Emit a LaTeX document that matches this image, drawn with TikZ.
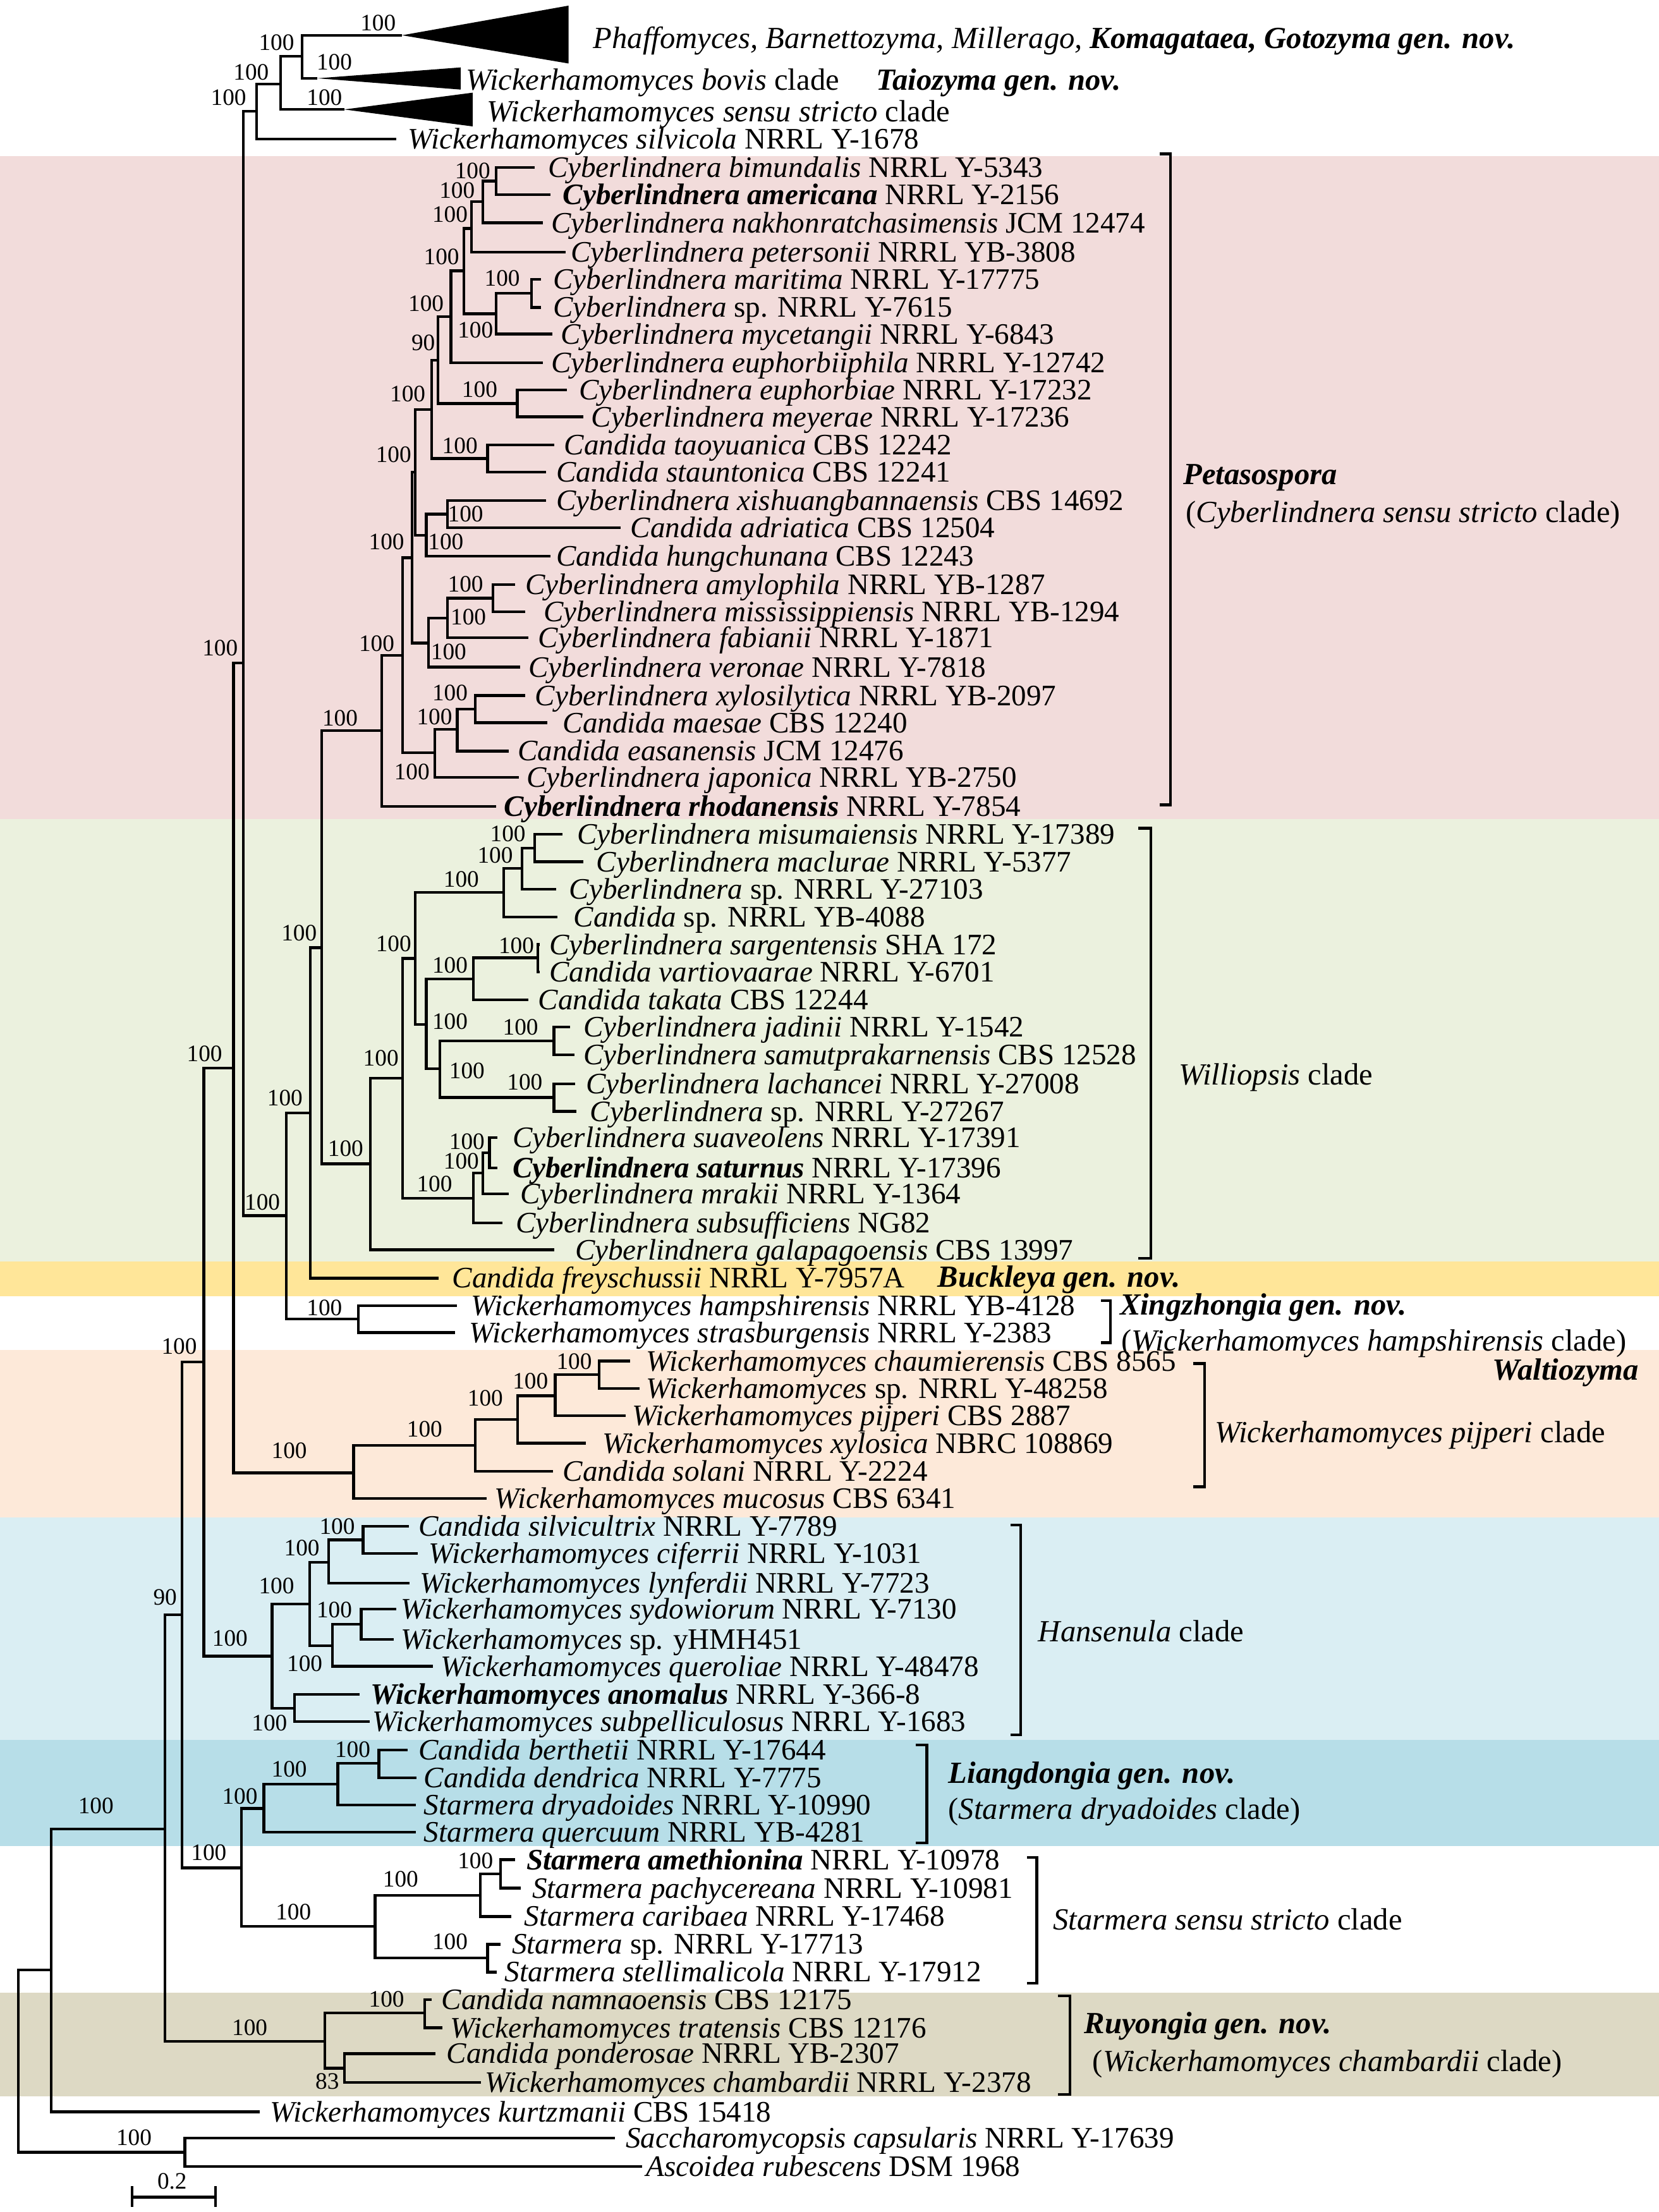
\documentclass[tikz,border=0pt]{standalone}
\usepackage{fontspec}
\setmainfont{Liberation Serif}
\newcommand{\tax}[2]{\textit{#1} #2}
\newcommand{\btax}[2]{\textbf{\textit{#1}} #2}
\newcommand{\taxleaf}[5]{\coordinate (#1) at (#2,#3); \node[taxon] (#1-l) at (#4,#3) {#5};}
\definecolor{cpink}{HTML}{F2DCDB}
\definecolor{cgreen}{HTML}{EBF1DE}
\definecolor{cyellow}{HTML}{FFE699}
\definecolor{cpeach}{HTML}{FDE9D9}
\definecolor{clblue}{HTML}{DAEEF3}
\definecolor{cmblue}{HTML}{B7DEE8}
\definecolor{ctan}{HTML}{DDD9C4}
\begin{document}
\begin{tikzpicture}[x=0.02cm,y=-0.02cm,
  taxon/.style={anchor=base west, inner sep=0pt, yshift=-3.97pt, font=\fontsize{12}{14}\selectfont},
  clab/.style={anchor=base west, inner sep=0pt, yshift=-4.1pt, font=\fontsize{12.4}{14}\selectfont},
  boot/.style={anchor=base, inner sep=0pt, yshift=-3.2pt, font=\fontsize{9.5}{11}\selectfont},
  br/.style={line width=1.1pt}]
\useasboundingbox (0,0) rectangle (1176,1568);
% background bands
\fill[cpink] (0,110.5) rectangle (1176,580.5);
\fill[cgreen] (0,580.5) rectangle (1176,894);
\fill[cyellow] (0,894) rectangle (1176,919);
\fill[cpeach] (0,957) rectangle (1176,1075.5);
\fill[clblue] (0,1075.5) rectangle (1176,1233.5);
\fill[cmblue] (0,1233.5) rectangle (1176,1308.8);
\fill[ctan] (0,1412.5) rectangle (1176,1486.2);

% ---------- top collapsed clades
\coordinate (t1) at (285,25);
\coordinate (t2) at (225,55.5);
\coordinate (t3) at (244,77.6);
\fill (t1) -- (403,4) -- (403,45) -- cycle;
\fill (t2) -- (326.5,47.8) -- (326.5,63.5) -- cycle;
\fill (t3) -- (335,65.7) -- (335,89.6) -- cycle;
\node[clab] (t1-l) at (420.3,27) {\textit{Phaffomyces, Barnettozyma, Millerago,} \textbf{\textit{Komagataea,}} \textbf{\textit{Gotozyma gen. nov.}}};
\node[clab] (t2-l) at (330,56.5) {\textit{Wickerhamomyces bovis} clade};
\node[clab] (t2-g) at (621,56.5) {\textbf{\textit{Taiozyma gen. nov.}}};
\node[clab] (t3-l) at (345,79) {\textit{Wickerhamomyces sensu stricto} clade};
\taxleaf{silv}{281}{98.5}{289}{\tax{Wickerhamomyces silvicola}{NRRL Y-1678}}

% ---------- internal nodes
\coordinate (nT1) at (214,40);
\coordinate (nT2) at (199,59.5);
\coordinate (nT3) at (182,79);
\coordinate (nB1) at (172.5,470);
\coordinate (nB0) at (165.5,757);
\coordinate (nB5) at (144.5,965.5);
\coordinate (nB6) at (129,1144.5);
\coordinate (nB7) at (117,1296.4);
\coordinate (nB8) at (36.2,1396.5);
\coordinate (root) at (12.9,1461);
\coordinate (nOut) at (131.1,1525.7);
\coordinate (nB2) at (203,861.7);
\coordinate (nB3) at (220,788.8);
\coordinate (nB4) at (228,671.8);
\coordinate (nX) at (254,935);
% Petasospora
\coordinate (nP) at (270.5,518);
\coordinate (nPW) at (285.3,464.5);
\coordinate (nPX) at (292.1,395.4);
\coordinate (nPL) at (294.4,334.8);
\coordinate (nPJ) at (305.9,290.2);
\coordinate (nPH) at (310.4,255.5);
\coordinate (nPG) at (319.6,224.5);
\coordinate (nPF) at (328.7,192);
\coordinate (nPC) at (334.2,162);
\coordinate (nPB) at (342.4,143);
\coordinate (nPA) at (351.6,128.3);
\coordinate (nPE) at (351.6,222.5);
\coordinate (nPD) at (376.7,208);
\coordinate (nPI) at (366.7,286);
\coordinate (nPK) at (345.6,325);
\coordinate (nPN) at (302.2,379.5);
\coordinate (nPM) at (317.3,364.5);
\coordinate (nPS) at (303.6,455.8);
\coordinate (nPR) at (317.3,438);
\coordinate (nPQ) at (349.3,424);
\coordinate (nPV) at (308.1,533.7);
\coordinate (nPU) at (324.1,517);
\coordinate (nPT) at (337,502.7);
% Williopsis
\coordinate (nW) at (262.5,825);
\coordinate (nWn) at (285.3,764.3);
\coordinate (nWj) at (294.4,679.4);
\coordinate (nWc) at (357.1,632.5);
\coordinate (nWb) at (369.9,615.5);
\coordinate (nWa) at (379,601.1);
\coordinate (nWi) at (302.2,726.1);
\coordinate (nWe) at (335.6,694);
\coordinate (nWd) at (381.3,679);
\coordinate (nWh) at (311.8,757.5);
\coordinate (nWf) at (392.7,737.9);
\coordinate (nWg) at (392.7,778);
\coordinate (nWm) at (335.6,849.5);
\coordinate (nWl) at (342.4,831.5);
\coordinate (nWk) at (347,817);
% Waltiozyma
\coordinate (nWal) at (250.7,1044);
\coordinate (nWa4) at (337,1024.5);
\coordinate (nWa3) at (366.9,1006.2);
\coordinate (nWa2) at (393.5,989.4);
\coordinate (nWa1) at (424.7,974.5);
% Hansenula
\coordinate (nH) at (192.8,1174);
\coordinate (nHe) at (219.5,1137);
\coordinate (nHb) at (233.1,1107.3);
\coordinate (nHa) at (257.4,1091.6);
\coordinate (nHd) at (235.6,1166.6);
\coordinate (nHc) at (256,1151.4);
\coordinate (nHf) at (208.9,1210.8);
% Liangdongia / Starmera
\coordinate (nS) at (171,1324);
\coordinate (nLc) at (187,1282);
\coordinate (nLb) at (239.4,1264.8);
\coordinate (nLa) at (268.6,1250);
\coordinate (nSd) at (265.9,1365.5);
\coordinate (nSb) at (340.5,1343.5);
\coordinate (nSa) at (354.9,1328.3);
\coordinate (nSc) at (345.6,1388);
% Ruyongia
\coordinate (nR) at (230.4,1447);
\coordinate (nRa) at (300.9,1427);
\coordinate (nRb) at (244.3,1466);

% ---------- leaves
\taxleaf{bimu}{379}{118.7}{388.1}{\tax{Cyberlindnera bimundalis}{NRRL Y-5343}}
\taxleaf{amer}{390.4}{137.9}{398.7}{\btax{Cyberlindnera americana}{NRRL Y-2156}}
\taxleaf{nakh}{385}{157.9}{390.4}{\tax{Cyberlindnera nakhonratchasimensis}{JCM 12474}}
\taxleaf{peter}{401}{178.7}{404.2}{\tax{Cyberlindnera petersonii}{NRRL YB-3808}}
\taxleaf{mari}{383.6}{197.9}{391.8}{\tax{Cyberlindnera maritima}{NRRL Y-17775}}
\taxleaf{spa}{383.6}{217.9}{391.8}{\tax{Cyberlindnera}{sp. NRRL Y-7615}}
\taxleaf{myce}{391.4}{236.8}{397.3}{\tax{Cyberlindnera mycetangii}{NRRL Y-6843}}
\taxleaf{ephila}{385}{257.1}{390.4}{\tax{Cyberlindnera euphorbiiphila}{NRRL Y-12742}}
\taxleaf{ephor}{401.9}{276.3}{410.1}{\tax{Cyberlindnera euphorbiae}{NRRL Y-17232}}
\taxleaf{meye}{413.3}{295.5}{418.8}{\tax{Cyberlindnera meyerae}{NRRL Y-17236}}
\taxleaf{taoy}{392.7}{315.5}{399.6}{\tax{Candida taoyuanica}{CBS 12242}}
\taxleaf{staun}{387}{334.7}{394.1}{\tax{Candida stauntonica}{CBS 12241}}
\taxleaf{xish}{387.2}{354.9}{394.1}{\tax{Cyberlindnera xishuangbannaensis}{CBS 14692}}
\taxleaf{adri}{439.8}{374.2}{446.7}{\tax{Candida adriatica}{CBS 12504}}
\taxleaf{hung}{390.4}{394.3}{394.1}{\tax{Candida hungchunana}{CBS 12243}}
\taxleaf{amyl}{365.3}{414.3}{372.1}{\tax{Cyberlindnera amylophila}{NRRL YB-1287}}
\taxleaf{miss}{372.1}{433.6}{385}{\tax{Cyberlindnera mississippiensis}{NRRL YB-1294}}
\taxleaf{fabi}{374.4}{452.1}{381.3}{\tax{Cyberlindnera fabianii}{NRRL Y-1871}}
\taxleaf{vero}{368.5}{472.9}{374.4}{\tax{Cyberlindnera veronae}{NRRL Y-7818}}
\taxleaf{xylo}{372.1}{493}{379}{\tax{Cyberlindnera xylosilytica}{NRRL YB-2097}}
\taxleaf{maes}{388.1}{512.3}{398.7}{\tax{Candida maesae}{CBS 12240}}
\taxleaf{easa}{360.7}{532.4}{366.7}{\tax{Candida easanensis}{JCM 12476}}
\taxleaf{japo}{367.6}{550.9}{373.1}{\tax{Cyberlindnera japonica}{NRRL YB-2750}}
\taxleaf{rhod}{351.6}{571.7}{357.1}{\btax{Cyberlindnera rhodanensis}{NRRL Y-7854}}

\taxleaf{misu}{398.7}{591.3}{408.7}{\tax{Cyberlindnera misumaiensis}{NRRL Y-17389}}
\taxleaf{macl}{413.3}{610.9}{422.4}{\tax{Cyberlindnera maclurae}{NRRL Y-5377}}
\taxleaf{spb}{394.1}{630.4}{403.2}{\tax{Cyberlindnera}{sp. NRRL Y-27103}}
\taxleaf{spc}{395}{650}{406.4}{\tax{Candida}{sp. NRRL YB-4088}}
\taxleaf{sarg}{382.5}{669.5}{389}{\tax{Cyberlindnera sargentensis}{SHA 172}}
\taxleaf{vart}{382.5}{689}{389}{\tax{Candida vartiovaarae}{NRRL Y-6701}}
\taxleaf{taka}{374.4}{708.6}{381.3}{\tax{Candida takata}{CBS 12244}}
\taxleaf{jadi}{404.2}{728.1}{413.3}{\tax{Cyberlindnera jadinii}{NRRL Y-1542}}
\taxleaf{samu}{407.4}{747.7}{413.3}{\tax{Cyberlindnera samutprakarnensis}{CBS 12528}}
\taxleaf{lach}{407.8}{768.2}{415.1}{\tax{Cyberlindnera lachancei}{NRRL Y-27008}}
\taxleaf{spd}{408.7}{787.8}{417.9}{\tax{Cyberlindnera}{sp. NRRL Y-27267}}
\taxleaf{suav}{352.5}{806.3}{363}{\tax{Cyberlindnera suaveolens}{NRRL Y-17391}}
\taxleaf{satu}{352.5}{827.9}{363}{\btax{Cyberlindnera saturnus}{NRRL Y-17396}}
\taxleaf{mrak}{360.7}{846.4}{368.5}{\tax{Cyberlindnera mrakii}{NRRL Y-1364}}
\taxleaf{subs}{356.1}{867}{365.3}{\tax{Cyberlindnera subsufficiens}{NG82}}
\taxleaf{gala}{392.7}{885.9}{407.4}{\tax{Cyberlindnera galapagoensis}{CBS 13997}}

\taxleaf{freys}{311}{906}{320.4}{\tax{Candida freyschussii}{NRRL Y-7957A}}
\taxleaf{hamp}{323.7}{925.6}{333.7}{\tax{Wickerhamomyces hampshirensis}{NRRL YB-4128}}
\taxleaf{stras}{322.4}{944.6}{332.4}{\tax{Wickerhamomyces strasburgensis}{NRRL Y-2383}}
\taxleaf{chau}{446.6}{964.8}{457.9}{\tax{Wickerhamomyces chaumierensis}{CBS 8565}}
\taxleaf{spe}{453.3}{984.2}{457.9}{\tax{Wickerhamomyces}{sp. NRRL Y-48258}}
\taxleaf{pijp}{443.3}{1003.6}{448}{\tax{Wickerhamomyces pijperi}{CBS 2887}}
\taxleaf{xylc}{415.4}{1023}{426.7}{\tax{Wickerhamomyces xylosica}{NBRC 108869}}
\taxleaf{sola}{392.2}{1042.8}{398.8}{\tax{Candida solani}{NRRL Y-2224}}
\taxleaf{muco}{345}{1062.1}{350.3}{\tax{Wickerhamomyces mucosus}{CBS 6341}}

\taxleaf{silvc}{290}{1082}{296.3}{\tax{Candida silvicultrix}{NRRL Y-7789}}
\taxleaf{cife}{296.3}{1101.2}{303.6}{\tax{Wickerhamomyces ciferrii}{NRRL Y-1031}}
\taxleaf{lynf}{290.4}{1122.3}{297.3}{\tax{Wickerhamomyces lynferdii}{NRRL Y-7723}}
\taxleaf{sydo}{280.7}{1140.7}{284.1}{\tax{Wickerhamomyces sydowiorum}{NRRL Y-7130}}
\taxleaf{yhmh}{279.3}{1162}{284.1}{\tax{Wickerhamomyces}{sp. yHMH451}}
\taxleaf{quer}{307}{1181.2}{312.3}{\tax{Wickerhamomyces queroliae}{NRRL Y-48478}}
\taxleaf{anom}{255}{1201.2}{262.3}{\btax{Wickerhamomyces anomalus}{NRRL Y-366-8}}
\taxleaf{subp}{262.3}{1220.4}{263.7}{\tax{Wickerhamomyces subpelliculosus}{NRRL Y-1683}}

\taxleaf{bert}{289}{1240.4}{296.3}{\tax{Candida berthetii}{NRRL Y-17644}}
\taxleaf{dend}{295.3}{1260.1}{300.2}{\tax{Candida dendrica}{NRRL Y-7775}}
\taxleaf{dryad}{294.8}{1279.6}{300.2}{\tax{Starmera dryadoides}{NRRL Y-10990}}
\taxleaf{querc}{294.8}{1298.8}{300.2}{\tax{Starmera quercuum}{NRRL YB-4281}}

\taxleaf{amet}{365.2}{1318.2}{372.9}{\btax{Starmera amethionina}{NRRL Y-10978}}
\taxleaf{pach}{369.3}{1338.4}{377}{\tax{Starmera pachycereana}{NRRL Y-10981}}
\taxleaf{cari}{362.6}{1358.5}{371.3}{\tax{Starmera caribaea}{NRRL Y-17468}}
\taxleaf{spf}{354.9}{1378.2}{362.6}{\tax{Starmera}{sp. NRRL Y-17713}}
\taxleaf{stel}{352.3}{1397.9}{357.4}{\tax{Starmera stellimalicola}{NRRL Y-17912}}

\taxleaf{namn}{306}{1417.6}{312.7}{\tax{Candida namnaoensis}{CBS 12175}}
\taxleaf{trat}{313.7}{1437.4}{318.9}{\tax{Wickerhamomyces tratensis}{CBS 12176}}
\taxleaf{pond}{308.6}{1455.7}{316.3}{\tax{Candida ponderosae}{NRRL YB-2307}}
\taxleaf{cham}{341}{1476}{343.6}{\tax{Wickerhamomyces chambardii}{NRRL Y-2378}}
\taxleaf{kurtz}{184.1}{1497}{191.3}{\tax{Wickerhamomyces kurtzmanii}{CBS 15418}}
\taxleaf{sacc}{436.1}{1515.7}{443.3}{\tax{Saccharomycopsis capsularis}{NRRL Y-17639}}
\taxleaf{asco}{455.2}{1535.6}{457.7}{\tax{Ascoidea rubescens}{DSM 1968}}

% ---------- branches
\foreach \p/\c in {nT1/t1,nT1/t2,nT2/nT1,nT2/t3,nT3/nT2,nT3/silv,
  nB1/nT3,nB1/nB2,nB2/nB3,nB2/nX,nB3/nB4,nB3/freys,nB4/nP,nB4/nW,nX/hamp,nX/stras,
  nB0/nB1,nB0/nWal,nB5/nB0,nB5/nH,nB6/nB5,nB6/nS,nB7/nB6,nB7/nR,nB8/nB7,nB8/kurtz,
  root/nB8,root/nOut,nOut/sacc,nOut/asco,
  nP/nPW,nP/rhod,nPW/nPX,nPW/nPV,nPX/nPL,nPX/nPS,nPL/nPJ,nPL/nPN,nPJ/nPH,nPJ/nPK,
  nPH/nPG,nPH/nPI,nPG/nPF,nPG/ephila,nPF/nPC,nPF/nPE,nPC/nPB,nPC/peter,nPB/nPA,nPB/nakh,
  nPA/bimu,nPA/amer,nPE/nPD,nPE/myce,nPD/mari,nPD/spa,nPI/ephor,nPI/meye,nPK/taoy,nPK/staun,
  nPN/nPM,nPN/hung,nPM/xish,nPM/adri,nPS/nPR,nPS/vero,nPR/nPQ,nPR/fabi,nPQ/amyl,nPQ/miss,
  nPV/nPU,nPV/japo,nPU/nPT,nPU/easa,nPT/xylo,nPT/maes,
  nW/nWn,nW/gala,nWn/nWj,nWn/nWm,nWj/nWc,nWj/nWi,nWc/nWb,nWc/spc,nWb/nWa,nWb/spb,
  nWa/misu,nWa/macl,nWi/nWe,nWi/nWh,nWe/nWd,nWe/taka,nWd/sarg,nWd/vart,nWh/nWf,nWh/nWg,
  nWf/jadi,nWf/samu,nWg/lach,nWg/spd,nWm/nWl,nWm/subs,nWl/nWk,nWl/mrak,nWk/suav,nWk/satu,
  nWal/nWa4,nWal/muco,nWa4/nWa3,nWa4/sola,nWa3/nWa2,nWa3/xylc,nWa2/nWa1,nWa2/pijp,nWa1/chau,nWa1/spe,
  nH/nHe,nH/nHf,nHe/nHb,nHe/nHd,nHb/nHa,nHb/lynf,nHa/silvc,nHa/cife,nHd/nHc,nHd/quer,nHc/sydo,nHc/yhmh,
  nHf/anom,nHf/subp,
  nS/nLc,nS/nSd,nLc/nLb,nLc/querc,nLb/nLa,nLb/dryad,nLa/bert,nLa/dend,
  nSd/nSb,nSd/nSc,nSb/nSa,nSb/cari,nSa/amet,nSa/pach,nSc/spf,nSc/stel,
  nR/nRa,nR/nRb,nRa/namn,nRa/trat,nRb/pond,nRb/cham}
  \draw[br] (\p) |- (\c);

% ---------- bootstrap values
\foreach \bx/\by/\bt [count=\i] in {268/16/100,196/30/100,237/44/100,178/51/100,230/69/100,162/69/100,
  156/459/100,145/747/100,127/954/100,186/852/100,202/778/100,212/661/100,241/509/100,245/814/100,
  230/927/100,205/1028/100,117/1132/90,163/1161/100,68/1280/100,148/1313/100,177/1437/100,95/1515/100,
  335/121/100,324/135/100,319/152/100,356/197/100,337/234/100,313/182/100,302/215/100,300/243/90,
  340/276/100,289/279/100,326/316/100,279/322/100,330/364/100,316/384/100,274/384/100,330/414/100,
  332/437/100,318/462/100,319/491/100,308/508/100,292/547/100,267/456/100,
  360/591/100,351/606/100,327/623/100,366/670/100,319/684/100,369/728/100,372/767/100,331/759/100,
  319/724/100,279/669/100,331/809/100,327/823/100,308/839/100,270/750/100,
  407/965/100,376/979/100,344/991/100,301/1013/100,
  239/1082/100,214/1097/100,237/1141/100,216/1179/100,196/1124/100,191/1221/100,
  250/1240/100,205/1254/100,170/1273/100,
  337/1319/100,284/1332/100,319/1376/100,208/1355/100,
  274/1417/100,232/1475/83}
  \node[boot] (bs\i) at (\bx,\by) {\bt};

% ---------- scale bar
\coordinate (sbl) at (93.6,1557.4);
\coordinate (sbr) at (152.7,1557.4);
\draw[br] (sbl) -- (sbr);
\draw[br] (93.6,1549.7) -- (93.6,1564.3);
\draw[br] (152.7,1549.7) -- (152.7,1564.3);
\node[boot] (scale) at (122,1546) {0.2};

% ---------- brackets
\foreach \a/\b/\t/\u in {822/829.8/109.1/570.5, 807/815.8/587.1/892, 780.6/787.1/921.9/951.7,
  845.6/853.8/966.5/1053.9, 716.5/723.5/1081/1229.6, 649/657/1236.8/1306.3,
  728/735/1316.6/1405.8, 750/758.5/1414.8/1484.5}
  \draw[br] (\a,\t) -- (\b,\t) -- (\b,\u) -- (\a,\u);

% ---------- clade labels
\node[clab] (petl1) at (838.5,336.3) {\textbf{\textit{Petasospora}}};
\node[clab] (petl2) at (840.3,363) {(\textit{Cyberlindnera sensu stricto} clade)};
\node[clab] (wil) at (835.4,761.6) {\textit{Williopsis} clade};
\node[clab, anchor=base east] (buck) at (836.8,905) {\textbf{\textit{Buckleya gen. nov.}}};
\node[clab] (xing1) at (793.5,925) {\textbf{\textit{Xingzhongia gen. nov.}}};
\node[clab] (xing2) at (794.4,950.2) {(\textit{Wickerhamomyces hampshirensis} clade)};
\node[clab, anchor=base east] (walt) at (1162,971.2) {\textbf{\textit{Waltiozyma}}};
\node[clab] (pijl) at (860.9,1015.5) {\textit{Wickerhamomyces pijperi} clade};
\node[clab] (hanl) at (735.7,1156.3) {\textit{Hansenula} clade};
\node[clab] (lia1) at (672,1256.6) {\textbf{\textit{Liangdongia gen. nov.}}};
\node[clab] (lia2) at (672,1282.4) {(\textit{Starmera dryadoides} clade)};
\node[clab] (stl) at (746.2,1360.8) {\textit{Starmera sensu stricto} clade};
\node[clab] (ruy1) at (768.3,1434.1) {\textbf{\textit{Ruyongia gen. nov.}}};
\node[clab] (ruy2) at (774.2,1461.1) {(\textit{Wickerhamomyces chambardii} clade)};
\end{tikzpicture}
\end{document}
